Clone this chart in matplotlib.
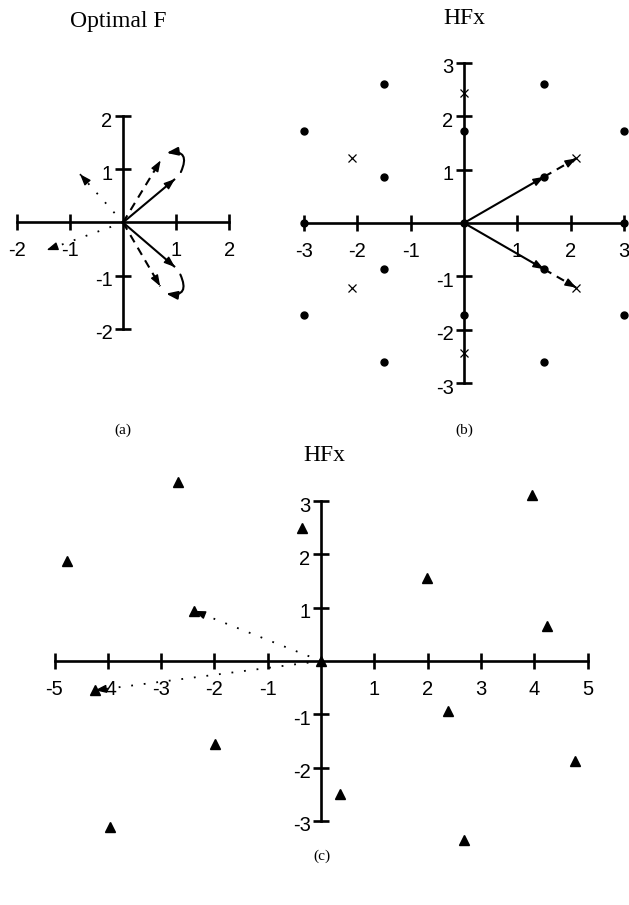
import matplotlib
matplotlib.use("Agg")
import matplotlib.pyplot as plt
from matplotlib.patches import FancyArrowPatch
from matplotlib.transforms import ScaledTranslation
import numpy as np

# ---------------- data ----------------
# panel (a): Optimal F
a_xticks = [-2, -1, 1, 2]
a_yticks = [-2, -1, 1, 2]
a_solid_tips = [(0.98, 0.82), (0.98, -0.84)]
a_dashed_tips = [(0.71, 1.17), (0.70, -1.20)]
a_dotted_tips = [(-0.81, 0.91), (-1.44, -0.52)]
a_arc_up = [(1.09, 0.95), (0.82, 1.31)]
a_arc_dn = [(1.08, -0.98), (0.81, -1.34)]

# panel (b): HFx lattice
b_xticks = [-3, -2, -1, 1, 2, 3]
b_yticks = [-3, -2, -1, 1, 2, 3]
b_dots_x = [0, 1.5, 1.5, -1.5, -1.5, 0, 0, 3, -3, 3, 3, -3, -3, 1.5, 1.5, -1.5, -1.5]
b_dots_y = [0, 0.866, -0.866, 0.866, -0.866, 1.732, -1.732, 0, 0, 1.732, -1.732,
            1.732, -1.732, 2.598, -2.598, 2.598, -2.598]
b_cross_x = [2.1, 0, -2.1, -2.1, 0, 2.1]
b_cross_y = [1.21, 2.43, 1.21, -1.21, -2.43, -1.21]
b_solid_tips = [(1.5, 0.866), (1.5, -0.866)]
b_dashed_tips = [(2.1, 1.21), (2.1, -1.21)]

# panel (c): HFx
c_xticks = [-5, -4, -3, -2, -1, 1, 2, 3, 4, 5]
c_yticks = [-3, -2, -1, 1, 2, 3]
c_tri_x = [0, -2.68, -0.36, -4.76, -2.38, -4.24, -1.98, -3.96,
           3.96, 1.98, 4.24, 2.375, 4.76, 0.36, 2.675]
c_tri_y = [0, 3.36, 2.50, 1.88, 0.94, -0.55, -1.55, -3.11,
           3.11, 1.55, 0.65, -0.94, -1.88, -2.50, -3.36]
c_dotted_tips = [(-2.38, 0.94), (-4.24, -0.55)]

# ---------------- figure ----------------
W, H = 629, 905
fig = plt.figure(figsize=(W / 100, H / 100), dpi=100)
SANS = "Liberation Sans"
SERIF = "Liberation Serif"
TICKFS = 14.5
AXLW = 1.9
VLW = 1.5


def make_ax(ox, oy, unit, xl, yl, xbounds, ybounds, xticks, yticks):
    left = ox + xl[0] * unit
    right = ox + xl[1] * unit
    top = oy - yl[1] * unit
    bottom = oy - yl[0] * unit
    ax = fig.add_axes([left / W, 1 - bottom / H, (right - left) / W, (bottom - top) / H])
    ax.set_xlim(xl)
    ax.set_ylim(yl)
    ax.patch.set_visible(False)
    for s in ("top", "right"):
        ax.spines[s].set_visible(False)
    ax.spines["left"].set_position("zero")
    ax.spines["bottom"].set_position("zero")
    ax.spines["left"].set_bounds(*ybounds)
    ax.spines["bottom"].set_bounds(*xbounds)
    for s in ("left", "bottom"):
        ax.spines[s].set_linewidth(AXLW)
        ax.spines[s].set_zorder(1)
    ax.set_xticks(xticks)
    ax.set_yticks(yticks)
    ax.set_xticklabels([str(t) for t in xticks], family=SANS, fontsize=TICKFS)
    ax.set_yticklabels([str(t) for t in yticks], family=SANS, fontsize=TICKFS)
    ax.tick_params(axis="both", direction="inout", length=11, width=AXLW)
    ax.tick_params(axis="x", pad=8)
    ax.tick_params(axis="y", pad=2)
    shift = ScaledTranslation(0, -3 / 100, fig.dpi_scale_trans)
    for tick in ax.yaxis.get_major_ticks():
        tick.label1.set_transform(tick.label1.get_transform() + shift)
    for lab in ax.get_xticklabels() + ax.get_yticklabels():
        lab.set_clip_on(False)
    return ax


HEAD = "-|>,head_length=0.55,head_width=0.2"


def arrow_line(ax, tip, style, lw=VLW, start=(0, 0)):
    ax.plot([start[0], tip[0]], [start[1], tip[1]], color="black", lw=lw,
            linestyle=style, solid_capstyle="butt", dash_capstyle="butt",
            zorder=3, clip_on=False)
    v = np.array(tip) - np.array(start)
    back = np.array(tip) - 0.12 * v / np.linalg.norm(v)
    ax.annotate("", xy=tip, xytext=tuple(back),
                arrowprops=dict(arrowstyle=HEAD, color="black", lw=1.0,
                                shrinkA=0, shrinkB=0, mutation_scale=12),
                zorder=4, annotation_clip=False)


DOTTED = (0, (1, 6))
DASHED = (0, (4, 3))

# ---- panel (a)
axa = make_ax(123, 222.5, 53.1, (-2.3, 2.3), (-2.3, 2.3), (-2, 2), (-2, 2), a_xticks, a_yticks)
for t in a_solid_tips:
    arrow_line(axa, t, "-")
for t in a_dashed_tips:
    arrow_line(axa, t, DASHED)
for t in a_dotted_tips:
    arrow_line(axa, t, DOTTED, lw=1.3)
for pts, rad in ((a_arc_up, 0.9), (a_arc_dn, -0.9)):
    p = FancyArrowPatch(pts[0], pts[1], connectionstyle=f"arc3,rad={rad}",
                        arrowstyle=HEAD, mutation_scale=12, lw=VLW, color="black",
                        shrinkA=0, shrinkB=0, zorder=4, clip_on=False)
    axa.add_patch(p)

# ---- panel (b)
axb = make_ax(464, 223, 53.4, (-3.3, 3.3), (-3.3, 3.3), (-3, 3), (-3, 3), b_xticks, b_yticks)
axb.plot(b_dots_x, b_dots_y, "o", color="black", ms=5, zorder=5, clip_on=False)
axb.plot(b_cross_x, b_cross_y, "x", color="black", ms=6, mew=0.9, zorder=5, clip_on=False)
for t in b_solid_tips:
    arrow_line(axb, t, "-")
for t0, t1 in zip(b_solid_tips, b_dashed_tips):
    arrow_line(axb, t1, DASHED, start=t0)

# ---- panel (c)
axc = make_ax(321, 661, 53.3, (-5.5, 5.5), (-3.8, 3.8), (-5, 5), (-3, 3), c_xticks, c_yticks)
axc.plot(c_tri_x, c_tri_y, "^", color="black", ms=7, zorder=5, clip_on=False)
for t in c_dotted_tips:
    arrow_line(axc, t, DOTTED, lw=1.3)

# ---- titles and captions
fig.text(118 / W, 1 - 22 / H, "Optimal F", family=SERIF, fontsize=17, ha="center", va="center")
fig.text(464 / W, 1 - 18 / H, "HFx", family=SERIF, fontsize=17, ha="center", va="center")
fig.text(324 / W, 1 - 455 / H, "HFx", family=SERIF, fontsize=17, ha="center", va="center")
fig.text(123 / W, 1 - 430 / H, "(a)", family=SERIF, fontsize=11, ha="center", va="center")
fig.text(464 / W, 1 - 430 / H, "(b)", family=SERIF, fontsize=11, ha="center", va="center")
fig.text(322 / W, 1 - 856 / H, "(c)", family=SERIF, fontsize=11, ha="center", va="center")

fig.savefig("out.png", dpi=100)
